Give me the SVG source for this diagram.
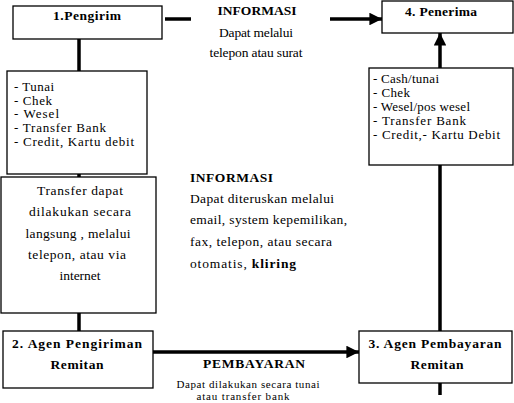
<svg xmlns="http://www.w3.org/2000/svg" width="514" height="403" viewBox="0 0 514 403">
<defs>
<style>
.box{fill:#fff;stroke:#000;stroke-width:1.3}
.ln{stroke:#000;stroke-width:3.5;fill:none}
text{font-size:13.5px;fill:#000}
.b{font-weight:bold}
.c{text-anchor:middle}
.s{font-size:11px}
.l{font-size:13px}
</style>
<marker id="ah" viewBox="0 0 10 10" refX="10" refY="5" markerWidth="4" markerHeight="3.6" markerUnits="strokeWidth" orient="auto">
<path d="M0,0 L10,5 L0,10 Z" fill="#000"/>
</marker>
</defs>
<rect width="514" height="403" fill="#fff"/>
<g id="connectors">
<line class="ln" x1="79" y1="39" x2="79" y2="71"/>
<line class="ln" x1="79" y1="174" x2="79" y2="177"/>
<line class="ln" x1="79" y1="313" x2="79" y2="331"/>
<line class="ln" x1="165" y1="19" x2="191" y2="19"/>
<line class="ln" x1="330" y1="19" x2="382" y2="19" marker-end="url(#ah)"/>
<line class="ln" x1="440" y1="68" x2="440" y2="33" marker-end="url(#ah)"/>
<line class="ln" x1="440" y1="165" x2="440" y2="331"/>
<line class="ln" x1="440" y1="383" x2="440" y2="395"/>
<line class="ln" x1="153" y1="352" x2="359" y2="352" marker-end="url(#ah)"/>
</g>
<g font-family="Liberation Serif">
<g id="n1">
<rect class="box" x="13" y="6" width="149" height="33"/>
<text class="b c" x="87" y="20" textLength="68">1.Pengirim</text>
</g>
<g id="list1">
<rect class="box" x="7" y="71" width="140" height="103"/>
<text class="l" x="14" y="91" textLength="40">- Tunai</text>
<text class="l" x="14" y="104.5" textLength="38">- Chek</text>
<text class="l" x="14" y="118" textLength="45">- Wesel</text>
<text class="l" x="14" y="132" textLength="92">- Transfer Bank</text>
<text class="l" x="14" y="145.5" textLength="120">- Credit, Kartu debit</text>
</g>
<g id="transfer">
<rect class="box" x="1" y="177" width="155" height="136"/>
<text class="c" x="80" y="195" textLength="86">Transfer dapat</text>
<text class="c" x="80" y="216" textLength="102">dilakukan secara</text>
<text class="c" x="78" y="238" textLength="105">langsung , melalui</text>
<text class="c" x="77" y="259" textLength="98">telepon, atau via</text>
<text class="c" x="80" y="280">internet</text>
</g>
<g id="n2">
<rect class="box" x="3" y="331" width="150" height="57"/>
<text class="b c" x="77" y="348" textLength="130">2.  Agen Pengiriman</text>
<text class="b c" x="77" y="369" textLength="53">Remitan</text>
</g>
<g id="n4">
<rect class="box" x="382" y="1" width="131" height="32"/>
<text class="b c" x="441" y="16" textLength="72">4. Penerima</text>
</g>
<g id="list2">
<rect class="box" x="369" y="68" width="144" height="97"/>
<text class="l" x="373" y="82.5" textLength="66">- Cash/tunai</text>
<text class="l" x="373" y="97" textLength="37">- Chek</text>
<text class="l" x="373" y="111" textLength="97">- Wesel/pos wesel</text>
<text class="l" x="373" y="124.5" textLength="93">- Transfer Bank</text>
<text class="l" x="373" y="139" textLength="127">- Credit,- Kartu Debit</text>
</g>
<g id="n3">
<rect class="box" x="359" y="331" width="153" height="52"/>
<text class="b c" x="435" y="348" textLength="133">3. Agen Pembayaran</text>
<text class="b c" x="437" y="369" textLength="53">Remitan</text>
</g>
<g id="info1">
<text class="b c" x="257" y="15" textLength="79">INFORMASI</text>
<text class="c" x="256" y="37" textLength="74">Dapat melalui</text>
<text class="c" x="256" y="57" textLength="93">telepon atau surat</text>
</g>
<g id="info2">
<text class="b" x="190" y="182" textLength="83">INFORMASI</text>
<text x="190" y="203" textLength="144">Dapat diteruskan melalui</text>
<text x="190" y="224" textLength="157">email, system kepemilikan,</text>
<text x="190" y="246" textLength="142">fax, telepon, atau secara</text>
<text x="190" y="268" textLength="106">otomatis,  <tspan class="b">kliring</tspan></text>
</g>
<g id="pay">
<text class="b c" x="254" y="368" textLength="102">PEMBAYARAN</text>
<text class="c s" x="248" y="388" textLength="143">Dapat dilakukan secara tunai</text>
<text class="c s" x="243" y="400" textLength="93">atau transfer bank</text>
</g>
</g>
</svg>
